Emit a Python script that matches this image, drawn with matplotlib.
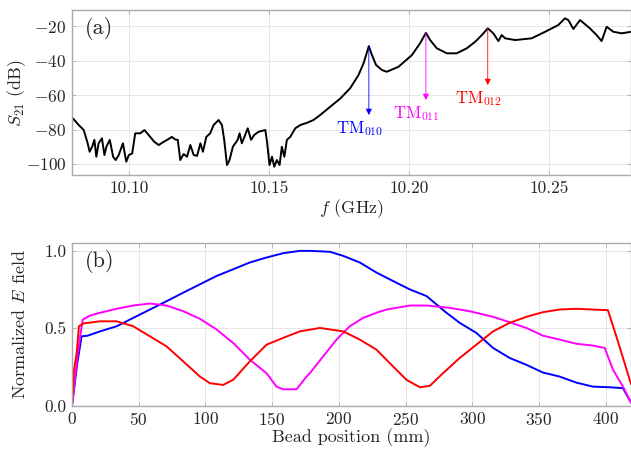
import numpy as np
import matplotlib
matplotlib.use("Agg")
import matplotlib.pyplot as plt

plt.rcParams["font.family"] = "cmr10"
plt.rcParams["mathtext.fontset"] = "cm"
plt.rcParams["axes.formatter.use_mathtext"] = True

# Transmission spectrum S21 (dB) vs frequency (GHz)
freq = [10.0798, 10.0819, 10.0837, 10.0851, 10.0858, 10.0867, 10.0875, 10.0882,
        10.0890, 10.0902, 10.0911, 10.0918, 10.0930, 10.0942, 10.0951, 10.0962,
        10.0977, 10.0989, 10.0998, 10.1010, 10.1021, 10.1039, 10.1054, 10.1069,
        10.1089, 10.1105, 10.1123, 10.1137, 10.1152, 10.1164, 10.1173, 10.1182,
        10.1194, 10.1206, 10.1218, 10.1230, 10.1242, 10.1254, 10.1263, 10.1275,
        10.1289, 10.1301, 10.1319, 10.1331, 10.1339, 10.1349, 10.1358, 10.1370,
        10.1387, 10.1394, 10.1402, 10.1414, 10.1423, 10.1435, 10.1446, 10.1462,
        10.1486, 10.1492, 10.1501, 10.1510, 10.1518, 10.1527, 10.1537, 10.1545,
        10.1554, 10.1563, 10.1575, 10.1593, 10.1611, 10.1635, 10.1658, 10.1682,
        10.1718, 10.1754, 10.1789, 10.1819, 10.1837, 10.1856, 10.1867, 10.1882,
        10.1903, 10.1920, 10.1962, 10.2010, 10.2039, 10.2060, 10.2075, 10.2099,
        10.2135, 10.2170, 10.2206, 10.2236, 10.2260, 10.2281, 10.2301, 10.2319,
        10.2331, 10.2343, 10.2379, 10.2438, 10.2486, 10.2533, 10.2557, 10.2569,
        10.2587, 10.2611, 10.2646, 10.2670, 10.2688, 10.2706, 10.2730, 10.2760,
        10.2793]
s21 = [-73.5, -77.4, -80.3, -88.0, -92.9, -90.0, -86.0, -95.8,
       -88.0, -85.1, -94.8, -90.0, -86.0, -95.8, -97.7, -94.8,
       -88.0, -98.7, -94.8, -93.9, -82.2, -82.2, -80.3, -83.2,
       -87.1, -89.0, -87.1, -85.8, -84.3, -85.8, -86.0, -97.7,
       -94.2, -95.8, -89.0, -94.8, -95.3, -88.0, -92.9, -84.3,
       -82.2, -77.4, -74.5, -77.4, -86.0, -100.6, -97.7, -90.0,
       -86.0, -82.2, -88.0, -83.2, -79.3, -86.0, -83.2, -81.3,
       -80.3, -87.0, -100.6, -95.8, -101.6, -97.7, -100.6, -90.0,
       -95.8, -86.0, -84.3, -79.3, -77.4, -76.1, -74.5, -71.6,
       -66.8, -62.0, -56.1, -48.4, -41.6, -31.6, -36.8, -42.6,
       -45.5, -46.5, -43.6, -36.8, -30.0, -23.9, -28.1, -32.9,
       -35.8, -35.8, -32.9, -29.1, -25.2, -21.3, -24.2, -28.7,
       -25.2, -27.1, -28.1, -27.1, -23.3, -19.4, -15.5, -16.5,
       -21.7, -16.5, -21.3, -25.2, -28.7, -20.4, -23.3, -24.2,
       -23.3]

# Resonance markers: frequency, peak level, arrow tip level
modes = [r"$\mathrm{TM}_{010}$", r"$\mathrm{TM}_{011}$", r"$\mathrm{TM}_{012}$"]
mode_freq = [10.1856, 10.2060, 10.2281]
mode_peak = [-31.6, -23.9, -21.3]
mode_tip = [-71.6, -62.9, -54.2]
mode_colors = ["#0000ff", "#ff00ff", "#ff0000"]

# Bead-pull field profiles
pos_010 = [0, 4, 7.2, 11.7, 21, 33.5, 45.9, 58.4, 70.9, 83.4, 95.9, 108.4, 120.8,
           133.3, 145.8, 158.3, 170.8, 178.3, 193.3, 203.2, 215.7, 228.2, 240.7,
           253.2, 265.7, 273.2, 280.7, 290.6, 303.1, 315.6, 328.1, 340.6, 353,
           365.5, 378, 390.5, 403, 413, 419]
e_010 = [0, 0.275, 0.448, 0.452, 0.48, 0.513, 0.567, 0.621, 0.675, 0.730, 0.784,
         0.838, 0.881, 0.925, 0.957, 0.985, 1.0, 1.0, 0.994, 0.968, 0.925, 0.860,
         0.805, 0.751, 0.708, 0.654, 0.6, 0.535, 0.470, 0.373, 0.308, 0.264, 0.214,
         0.188, 0.149, 0.123, 0.119, 0.113, 0.02]

pos_011 = [0, 4.7, 8, 13.5, 21, 33.5, 45.9, 58.4, 70.9, 83.4, 95.9, 108.4, 120.8,
           133.3, 145.8, 153.3, 158.3, 168.3, 175.8, 178.3, 188.2, 198.3, 208.2,
           218.2, 228.2, 235.7, 253.2, 265.7, 283.1, 298.1, 315.6, 328.1, 340.6,
           353, 365.5, 378, 390.5, 399.3, 405.5, 413, 419]
e_011 = [0, 0.362, 0.556, 0.582, 0.6, 0.626, 0.647, 0.660, 0.647, 0.610, 0.561,
         0.492, 0.405, 0.297, 0.210, 0.123, 0.106, 0.106, 0.188, 0.210, 0.318,
         0.427, 0.513, 0.567, 0.6, 0.621, 0.647, 0.647, 0.632, 0.610, 0.574, 0.539,
         0.502, 0.452, 0.427, 0.4, 0.388, 0.373, 0.232, 0.123, 0.02]

pos_012 = [0, 1.5, 3.5, 5.2, 8.5, 21, 33.5, 45.9, 58.4, 70.9, 83.4, 95.9, 103.4,
           113.3, 120.8, 133.3, 145.8, 158.3, 170.8, 185.8, 203.2, 215.7, 228.2,
           240.7, 250.7, 260.7, 268.2, 278.1, 290.6, 303.1, 315.6, 328.1, 340.6,
           353, 365.5, 378, 390.5, 401.7, 408, 414.2, 419]
e_012 = [0, 0.232, 0.340, 0.513, 0.531, 0.545, 0.545, 0.513, 0.448, 0.383, 0.286,
         0.188, 0.145, 0.134, 0.167, 0.286, 0.394, 0.438, 0.480, 0.502, 0.480,
         0.427, 0.362, 0.253, 0.167, 0.119, 0.128, 0.210, 0.308, 0.394, 0.480,
         0.535, 0.574, 0.604, 0.621, 0.626, 0.621, 0.617, 0.448, 0.275, 0.14]

fig = plt.figure(figsize=(6.31, 4.57), dpi=100)
ax1 = fig.add_axes([0.1141, 0.617, 0.8859, 0.361])
ax2 = fig.add_axes([0.1141, 0.1123, 0.8859, 0.3557])

frame = "#aaaaaa"
for ax in (ax1, ax2):
    ax.grid(True, color="#e6e6e6", lw=0.7)
    ax.set_axisbelow(True)
    for sp in ax.spines.values():
        sp.set_color(frame)
        sp.set_linewidth(1.0)
    ax.tick_params(direction="in", length=3, width=0.6, colors=frame,
                   labelcolor="#262626", labelsize=12.5, top=True, right=True,
                   pad=4)

# (a) spectrum
ax1.plot(freq, s21, color="black", lw=1.4)
for lab, f0, pk, tip, c in zip(modes, mode_freq, mode_peak, mode_tip, mode_colors):
    ax1.annotate("", xy=(f0, tip), xytext=(f0, pk),
                 arrowprops=dict(arrowstyle="-|>", color=c, lw=0.6,
                                 mutation_scale=9, shrinkA=0, shrinkB=0))
    ax1.text(f0 - 0.0033, tip - 2.5, lab, color=c, fontsize=12,
             ha="center", va="top")
ax1.set_xlim(10.0795, 10.2793)
ax1.set_ylim(-106.4, -10.7)
ax1.set_xticks([10.10, 10.15, 10.20, 10.25])
ax1.set_xticklabels(["10.10", "10.15", "10.20", "10.25"])
ax1.set_yticks([-100, -80, -60, -40, -20])
ax1.set_xlabel(r"$f$ (GHz)", fontsize=13, color="#262626", labelpad=1)
ax1.set_ylabel(r"$S_{21}$ (dB)", fontsize=13, color="#262626")
ax1.yaxis.set_label_coords(-0.079, 0.5)
ax1.text(0.023, 0.955, "(a)", transform=ax1.transAxes, fontsize=16,
         ha="left", va="top", color="#262626")

# (b) field profiles
ax2.plot(pos_010, e_010, color="#0000ff", lw=1.4)
ax2.plot(pos_011, e_011, color="#ff00ff", lw=1.4)
ax2.plot(pos_012, e_012, color="#ff0000", lw=1.4)
ax2.set_xlim(0, 419)
ax2.set_ylim(0, 1.05)
ax2.set_xticks(np.arange(0, 401, 50))
ax2.set_yticks([0, 0.5, 1.0])
ax2.set_yticklabels(["0.0", "0.5", "1.0"])
ax2.set_xlabel("Bead position (mm)", fontsize=13, color="#262626", labelpad=0)
ax2.set_ylabel(r"Normalized $E$ field", fontsize=13, color="#262626")
ax2.yaxis.set_label_coords(-0.079, 0.5)
ax2.text(0.023, 0.955, "(b)", transform=ax2.transAxes, fontsize=16,
         ha="left", va="top", color="#262626")

fig.savefig("out.png", dpi=100)
